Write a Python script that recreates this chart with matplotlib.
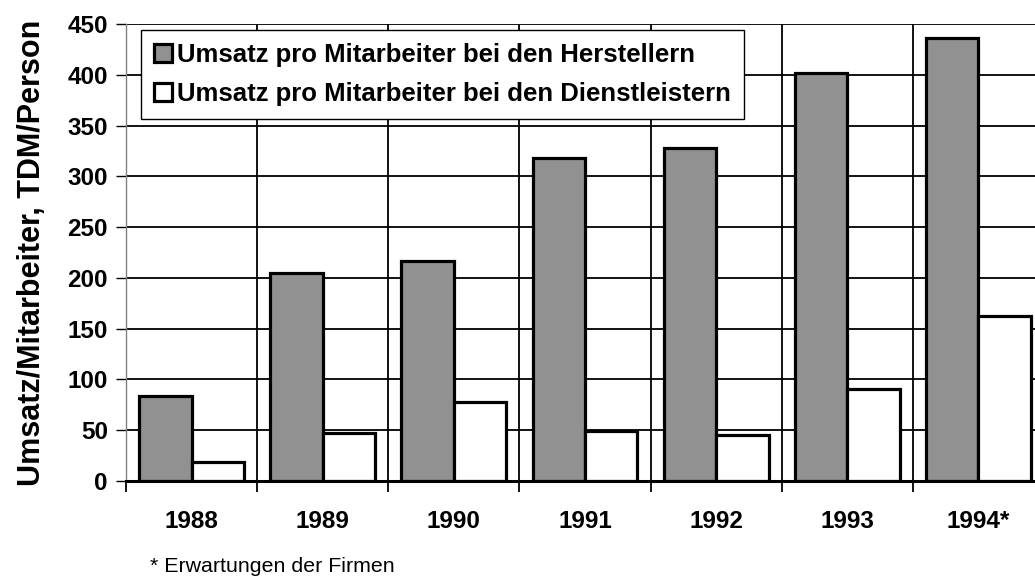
import matplotlib
matplotlib.use("Agg")
import matplotlib.pyplot as plt
import numpy as np
from matplotlib.patches import Patch

years = ["1988", "1989", "1990", "1991", "1992", "1993", "1994*"]
hersteller = [84, 205, 217, 318, 328, 402, 436]
dienstleister = [18.5, 47, 78, 49, 45, 91, 162]
label_h = "Umsatz pro Mitarbeiter bei den Herstellern"
label_d = "Umsatz pro Mitarbeiter bei den Dienstleistern"
ylabel = "Umsatz/Mitarbeiter, TDM/Person"
footnote = "* Erwartungen der Firmen"

plt.rcParams['font.family'] = ['Liberation Sans', 'DejaVu Sans']

fig = plt.figure(figsize=(10.35, 5.76), dpi=100)
ax = fig.add_axes([126/1035, (576-481)/576, (1044-126)/1035, (481-24)/576])

x = np.arange(len(years))
w = 0.4
ax.bar(x - w/2, hersteller, width=w, color="#919191", edgecolor="black", linewidth=2.3, zorder=3, label=label_h)
ax.bar(x + w/2, dienstleister, width=w, color="white", edgecolor="black", linewidth=2.3, zorder=3, label=label_d)

ax.set_xlim(-0.5, len(years) - 0.5)
ax.set_ylim(0, 450)
ax.set_yticks(np.arange(0, 451, 50))
ax.set_yticklabels([str(v) for v in range(0, 451, 50)], fontsize=17.5, fontweight="bold")
ax.set_xticks(x)
ax.set_xticklabels(years, fontsize=17.5, fontweight="bold")
ax.tick_params(axis="x", which="major", length=0, pad=21)
ax.set_xticks(np.arange(-0.5, len(years), 1), minor=True)
ax.tick_params(axis="x", which="minor", length=8, width=1.3, color="black", direction="out")
ax.tick_params(axis="y", length=7, width=1.0, color="black", pad=6)

ax.yaxis.grid(True, color="black", linewidth=1.3, zorder=1)
ax.xaxis.grid(True, which="minor", color="black", linewidth=1.3, zorder=1)
ax.set_axisbelow(True)

for s in ["top", "right"]:
    ax.spines[s].set_visible(False)
ax.spines["left"].set_color("#808080")
ax.spines["left"].set_linewidth(1.0)
ax.spines["bottom"].set_color("black")
ax.spines["bottom"].set_linewidth(2.2)
ax.spines["bottom"].set_zorder(4)

ax.set_ylabel(ylabel, fontsize=22, fontweight="bold", labelpad=15)

handles = [Patch(facecolor="#919191", edgecolor="black", linewidth=2.3),
           Patch(facecolor="white", edgecolor="black", linewidth=2.3)]
leg = ax.legend(handles, [label_h, label_d], loc="upper left",
                bbox_to_anchor=(140.7/1035, 1 - 30/576), bbox_transform=fig.transFigure,
                prop={"size": 18.5, "weight": "bold"}, fancybox=False, framealpha=1,
                edgecolor="black", handlelength=0.7, handleheight=0.7, handletextpad=0.23,
                borderpad=0.5, labelspacing=0.58, borderaxespad=0)
leg.get_frame().set_linewidth(1.0)
leg.set_zorder(5)

fig.text(150/1035, 1 - 566/576, footnote, fontsize=15.4, va="center", ha="left")

fig.savefig("out.png", dpi=100)
